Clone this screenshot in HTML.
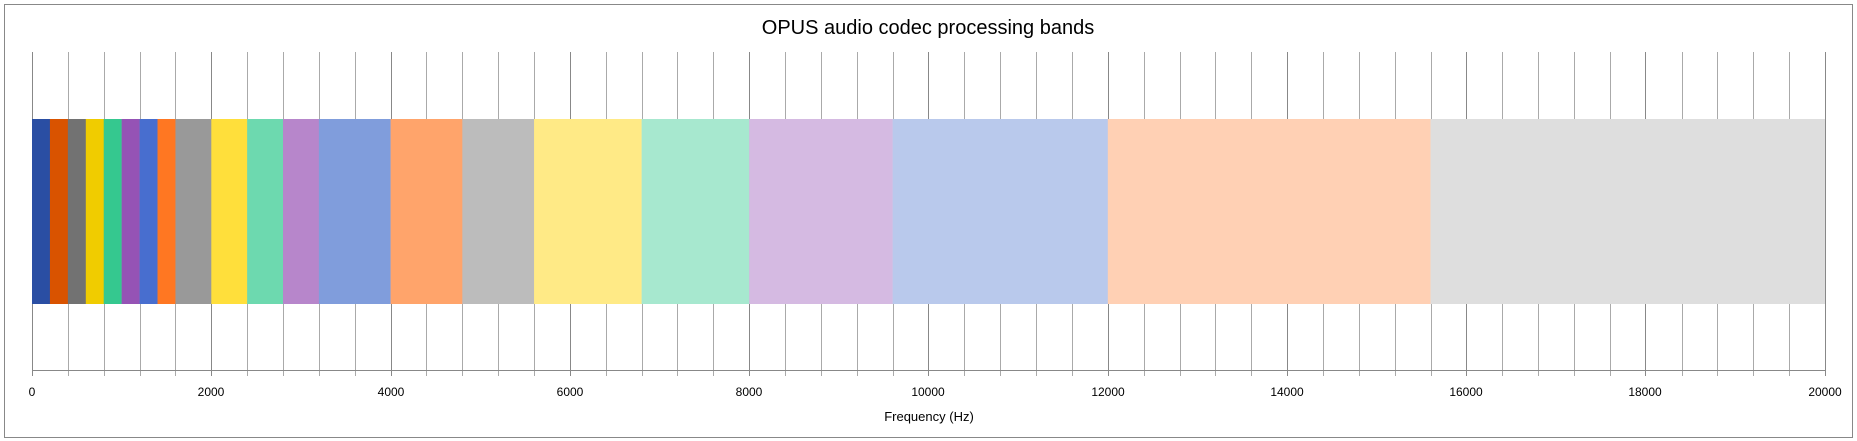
<!DOCTYPE html>
<html><head><meta charset="utf-8"><style>
html,body{margin:0;padding:0;background:#fff;}
svg{display:block;font-family:"Liberation Sans","DejaVu Sans",sans-serif;}
</style></head><body>
<svg width="1857" height="441" xmlns="http://www.w3.org/2000/svg">
<rect x="4.5" y="4.5" width="1848" height="433" fill="#fff" stroke="#888" stroke-width="1"/>
<text x="928" y="34" font-size="20" text-anchor="middle" fill="#000">OPUS audio codec processing bands</text>
<path fill="none" stroke="#aaa" stroke-width="1" d="M68.5 52V376M104.5 52V376M140.5 52V376M175.5 52V376M247.5 52V376M283.5 52V376M319.5 52V376M355.5 52V376M426.5 52V376M462.5 52V376M498.5 52V376M534.5 52V376M606.5 52V376M642.5 52V376M677.5 52V376M713.5 52V376M785.5 52V376M821.5 52V376M857.5 52V376M893.5 52V376M964.5 52V376M1000.5 52V376M1036.5 52V376M1072.5 52V376M1144.5 52V376M1180.5 52V376M1215.5 52V376M1251.5 52V376M1323.5 52V376M1359.5 52V376M1395.5 52V376M1431.5 52V376M1502.5 52V376M1538.5 52V376M1574.5 52V376M1610.5 52V376M1682.5 52V376M1717.5 52V376M1753.5 52V376M1789.5 52V376"/>
<path fill="none" stroke="#888" stroke-width="1" d="M32.5 52V376M211.5 52V376M391.5 52V376M570.5 52V376M749.5 52V376M928.5 52V376M1108.5 52V376M1287.5 52V376M1466.5 52V376M1645.5 52V376M1825.5 52V376"/>
<g>
<rect x="32" y="119" width="18.2" height="185" fill="#2a4ea3"/>
<rect x="49.93" y="119" width="18.2" height="185" fill="#d95300"/>
<rect x="67.86" y="119" width="18.2" height="185" fill="#727272"/>
<rect x="85.79" y="119" width="18.2" height="185" fill="#f0cc00"/>
<rect x="103.72" y="119" width="18.2" height="185" fill="#35c88f"/>
<rect x="121.65" y="119" width="18.2" height="185" fill="#9553b5"/>
<rect x="139.58" y="119" width="18.2" height="185" fill="#486ecf"/>
<rect x="157.51" y="119" width="18.2" height="185" fill="#ff7722"/>
<rect x="175.44" y="119" width="36.1" height="185" fill="#999999"/>
<rect x="211.3" y="119" width="36.1" height="185" fill="#ffdf3b"/>
<rect x="247.16" y="119" width="36.1" height="185" fill="#6dd9af"/>
<rect x="283.02" y="119" width="36.1" height="185" fill="#b786cb"/>
<rect x="318.88" y="119" width="72" height="185" fill="#809ddc"/>
<rect x="390.6" y="119" width="72" height="185" fill="#ffa46b"/>
<rect x="462.32" y="119" width="72" height="185" fill="#bcbcbc"/>
<rect x="534.04" y="119" width="107.8" height="185" fill="#ffea86"/>
<rect x="641.62" y="119" width="107.8" height="185" fill="#a7e8cf"/>
<rect x="749.2" y="119" width="143.7" height="185" fill="#d5bae2"/>
<rect x="892.64" y="119" width="215.4" height="185" fill="#b9c9ec"/>
<rect x="1107.8" y="119" width="323" height="185" fill="#ffd0b4"/>
<rect x="1430.54" y="119" width="394.46" height="185" fill="#dedede"/>
</g>
<line x1="32" y1="370.5" x2="1826" y2="370.5" stroke="#888" stroke-width="1"/>
<g font-size="12" text-anchor="middle" fill="#000">
<text x="32" y="396">0</text>
<text x="211" y="396">2000</text>
<text x="391" y="396">4000</text>
<text x="570" y="396">6000</text>
<text x="749" y="396">8000</text>
<text x="928" y="396">10000</text>
<text x="1108" y="396">12000</text>
<text x="1287" y="396">14000</text>
<text x="1466" y="396">16000</text>
<text x="1645" y="396">18000</text>
<text x="1825" y="396">20000</text>
</g>
<text x="929" y="421" font-size="13" text-anchor="middle" fill="#000">Frequency (Hz)</text>
</svg>
</body></html>
